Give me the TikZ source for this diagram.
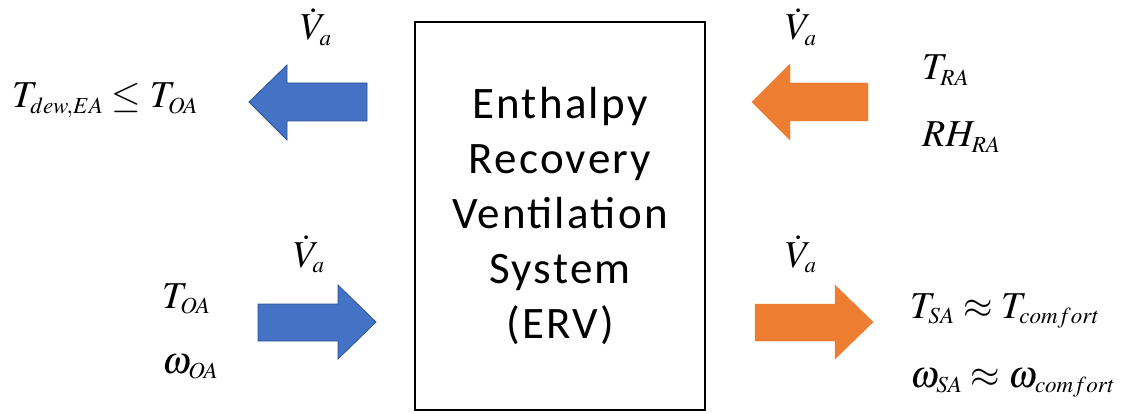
\documentclass[tikz,border=0pt]{standalone}
\usepackage{mathptmx}
\usepackage{fontspec}
\newfontfamily\ervfont[LetterSpace=5]{Carlito}
\usepackage{tikz}
\usetikzlibrary{arrows.meta}
\DeclareMathSizes{38}{38}{23}{16}
\definecolor{flowblue}{HTML}{4472C4}
\definecolor{flowblueedge}{HTML}{2F528F}
\definecolor{floworange}{HTML}{ED7D31}

\begin{document}
\begin{tikzpicture}[x=1pt, y=-1pt,
    bluearrow/.style={fill=flowblue, draw=flowblueedge, line width=0.8pt},
    orangearrow/.style={fill=floworange, draw=floworange, line width=0.4pt},
    formula/.style={anchor=base west, inner sep=0pt, font=\fontsize{38}{44}\selectfont},
    flowlabel/.style={anchor=base west, inner sep=0pt, font=\fontsize{38}{44}\selectfont}]
      \useasboundingbox (0,0) rectangle (1121,414);

      % Блок ERV
      \node[draw, line width=1.5pt, minimum width=290pt, minimum height=388pt,
            align=center, font=\ervfont\fontsize{45}{55}\selectfont] (erv) at (560,216)
            {Enthalpy\\Recovery\\Ventilation\\System\\(ERV)};

      % Вытяжной воздух (синяя стрелка влево)
      \draw[bluearrow] (367,83) -- (287,83) -- (287,65) -- (249,102)
            -- (287,140) -- (287,121) -- (367,121) -- cycle;
      % Возвратный воздух (оранжевая стрелка влево)
      \draw[orangearrow] (868,83) -- (790,83) -- (790,64) -- (752,102)
            -- (790,140) -- (790,121) -- (868,121) -- cycle;
      % Наружный воздух (синяя стрелка вправо)
      \draw[bluearrow] (258,304) -- (338,304) -- (338,285) -- (376,322)
            -- (338,359) -- (338,341) -- (258,341) -- cycle;
      % Приточный воздух (оранжевая стрелка вправо)
      \draw[orangearrow] (755,304) -- (835,304) -- (835,285) -- (873,322)
            -- (835,359) -- (835,341) -- (755,341) -- cycle;

      % Расход воздуха над стрелками
      \node[flowlabel] (flowEA) at (300,40) {$\dot{V}_a$};
      \node[flowlabel] (flowRA) at (785,40) {$\dot{V}_a$};
      \node[flowlabel] (flowOA) at (293,267) {$\dot{V}_a$};
      \node[flowlabel] (flowSA) at (785,267) {$\dot{V}_a$};

      % Параметры потоков
      \node[formula] (ea) at (12,108) {$T_{dew,EA} \leq T_{OA}$};
      \node[formula] (raT) at (922,80) {$T_{RA}$};
      \node[formula] (raRH) at (922,147) {$RH_{RA}$};
      \node[formula] (oaT) at (162,308) {$T_{OA}$};
      \node[formula] (oaW) at (162,373) {$\omega_{OA}$};
      \node[formula] (saT) at (910,318) {$T_{SA} \approx T_{comfort}$};
      \node[formula] (saW) at (910,387) {$\omega_{SA} \approx \omega_{comfort}$};

      \end{tikzpicture}
\end{document}
